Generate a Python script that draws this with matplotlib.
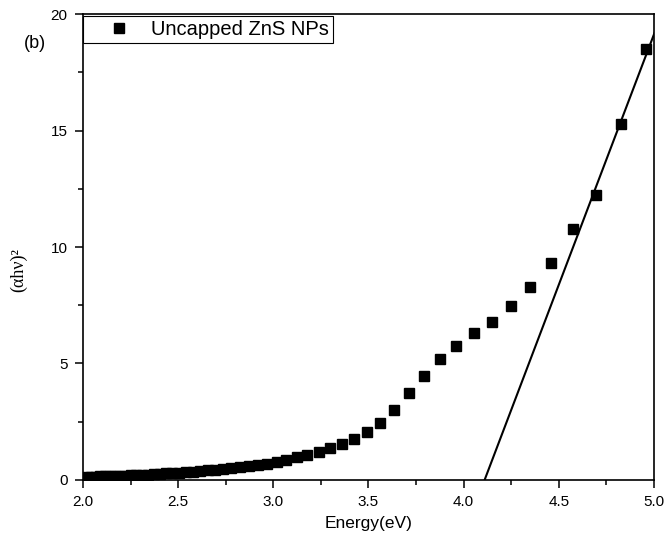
import matplotlib
matplotlib.use("Agg")
import matplotlib.pyplot as plt
from matplotlib.ticker import MultipleLocator

# data
energy = [2.020, 2.043, 2.067, 2.091, 2.116, 2.142, 2.168, 2.195, 2.222, 2.250,
          2.279, 2.309, 2.340, 2.371, 2.403, 2.436, 2.470, 2.505, 2.541, 2.578,
          2.616, 2.655, 2.696, 2.737, 2.780, 2.825, 2.870, 2.918, 2.967, 3.017,
          3.069, 3.123, 3.179, 3.238, 3.298, 3.360, 3.425, 3.493, 3.563, 3.636,
          3.712, 3.791, 3.875, 3.961, 4.052, 4.148, 4.247, 4.351, 4.460, 4.576,
          4.697, 4.825, 4.960]
ahv2 = [0.13, 0.14, 0.14, 0.15, 0.16, 0.16, 0.17, 0.18, 0.19, 0.20,
        0.21, 0.22, 0.23, 0.24, 0.26, 0.28, 0.30, 0.32, 0.34, 0.36,
        0.39, 0.42, 0.45, 0.49, 0.52, 0.56, 0.60, 0.65, 0.70, 0.77,
        0.86, 0.97, 1.08, 1.22, 1.37, 1.55, 1.76, 2.04, 2.45, 3.00,
        3.73, 4.47, 5.19, 5.76, 6.31, 6.79, 7.47, 8.28, 9.30, 10.76,
        12.24, 15.27, 18.50]

# linear fit (Tauc extrapolation)
fit_e = [4.11, 5.02]
fit_y = [0.0, 19.56]

plt.rcParams["font.family"] = ["Liberation Sans", "DejaVu Sans"]

fig = plt.figure(figsize=(6.67, 5.54), dpi=100)
ax = fig.add_axes([0.1244, 0.1336, 0.8561, 0.8411])

ax.plot(energy, ahv2, "s", color="black", markersize=7, label="Uncapped ZnS NPs")
ax.plot(fit_e, fit_y, "-", color="black", linewidth=1.5)

ax.set_xlim(2.0, 5.0)
ax.set_ylim(0, 20)
ax.xaxis.set_major_locator(MultipleLocator(0.5))
ax.xaxis.set_minor_locator(MultipleLocator(0.25))
ax.yaxis.set_major_locator(MultipleLocator(5))
ax.yaxis.set_minor_locator(MultipleLocator(2.5))
ax.tick_params(which="major", direction="out", length=6, width=1.1,
               labelsize=11, pad=5)
ax.tick_params(which="minor", direction="out", length=3.5, width=1.1)
for s in ax.spines.values():
    s.set_linewidth(1.2)

ax.set_xlabel("Energy(eV)", fontsize=12.5, labelpad=5)
ax.set_ylabel("(αhν)²", fontsize=13, family=["Liberation Serif", "DejaVu Serif"])
ax.yaxis.set_label_coords(-0.098, 0.45)

leg = ax.legend(loc="upper left", bbox_to_anchor=(0.0, 0.996), fontsize=14.5,
                frameon=True, fancybox=False, edgecolor="black", framealpha=1,
                borderpad=0.2, borderaxespad=0, handlelength=3.2,
                handletextpad=0.0, numpoints=1)
leg.get_frame().set_linewidth(0.8)

fig.text(0.052, 0.922, "(b)", fontsize=13, ha="center", va="center")

fig.savefig("out.png", dpi=100)
